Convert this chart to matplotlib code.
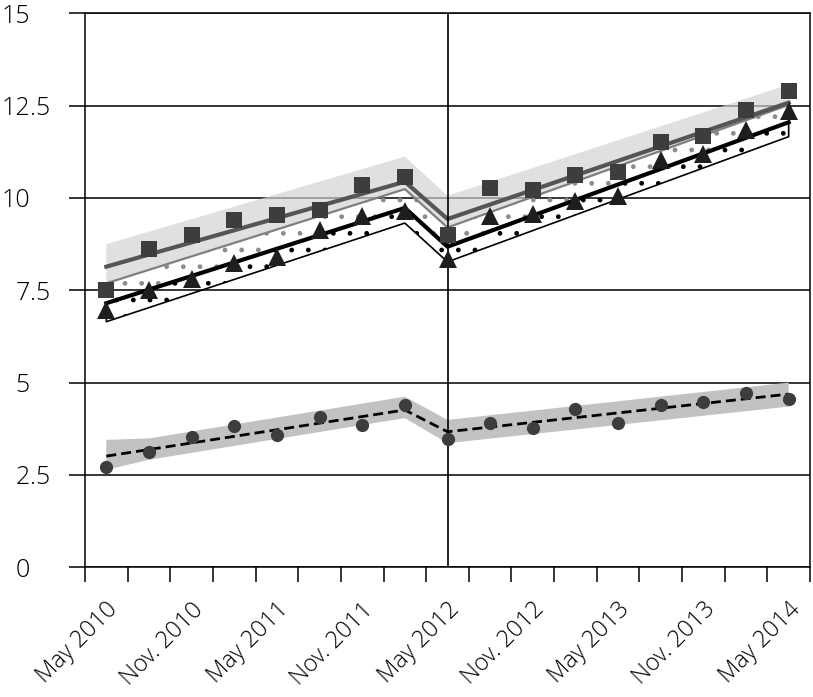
import matplotlib
matplotlib.use("Agg")
import matplotlib.pyplot as plt
import matplotlib.transforms as mtransforms
from matplotlib.ticker import FixedLocator
import numpy as np

plt.rcParams['font.family'] = ['Open Sans', 'DejaVu Sans']
plt.rcParams['hatch.linewidth'] = 1.0

# quarterly observations, May 2010 .. May 2014
quarters = ["May 2010", "Aug. 2010", "Nov. 2010", "Feb. 2011", "May 2011",
            "Aug. 2011", "Nov. 2011", "Feb. 2012", "May 2012", "Aug. 2012",
            "Nov. 2012", "Feb. 2013", "May 2013", "Aug. 2013", "Nov. 2013",
            "Feb. 2014", "May 2014"]
tick_labels = ["May 2010", "Nov. 2010", "May 2011", "Nov. 2011", "May 2012",
               "Nov. 2012", "May 2013", "Nov. 2013", "May 2014"]
break_at = "May 2012"

squares = [7.51, 8.62, 9.00, 9.41, 9.54, 9.68, 10.36, 10.57, 9.00,
           10.27, 10.22, 10.63, 10.71, 11.52, 11.68, 12.39, 12.90]
triangles = [6.97, 7.51, 7.81, 8.24, 8.40, 9.13, 9.51, 9.65, 8.35,
             9.51, 9.56, 9.91, 10.05, 11.03, 11.20, 11.85, 12.36]
circles = [2.72, 3.12, 3.53, 3.83, 3.58, 4.07, 3.86, 4.39, 3.48,
           3.91, 3.77, 4.29, 3.91, 4.39, 4.47, 4.72, 4.56]

# fitted trends, given at the segment ends (before / after the break)
knots = [0, 7, 8, 16]
sq_fit = [8.14, 10.44, 9.43, 12.58]
sq_alt = [7.69, 10.24, 9.20, 12.52]
sq_upper = [8.75, 11.12, 10.06, 13.07]
tri_fit = [7.15, 9.73, 8.68, 12.05]
tri_lower = [6.65, 9.32, 8.27, 11.66]
ci_fit = [3.01, 4.26, 3.67, 4.69]
ci_knots = [0, 1, 7, 8, 16]
ci_upper = [3.45, 3.49, 4.62, 3.99, 5.00]
ci_lower = [2.64, 2.91, 4.04, 3.36, 4.35]

yticks = [0, 2.5, 5, 7.5, 10, 12.5, 15]

W, H = 813, 697
fig = plt.figure(figsize=(W / 100, H / 100), dpi=100)
ax = fig.add_axes([85 / W, 1 - 567.3 / H, 725 / W, 554 / H])

x = np.arange(len(quarters))

# bands
ax.fill_between(knots, sq_alt, sq_upper, facecolor='#d2d2d2', alpha=0.68, lw=0, zorder=2)
ax.fill_between(knots, tri_fit, sq_alt, facecolor='none', edgecolor='#8c8c8c',
                hatch='.', lw=0, zorder=2.2)
ax.fill_between(knots, tri_lower, tri_fit, facecolor='none', edgecolor='black',
                hatch='.', lw=1.2, zorder=2.3)
ax.fill_between(ci_knots, ci_lower, ci_upper, facecolor='#c2c2c2', lw=0, zorder=2)

# trend lines
ax.plot(knots, sq_alt, color='#7f7f7f', lw=1.6, zorder=3)
ax.plot(knots, sq_fit, color='#555555', lw=3, zorder=3.1)
ax.plot(knots, tri_fit, color='black', lw=3, zorder=3.1)
ax.plot(knots, ci_fit, color='black', lw=2, dashes=(3.6, 1.8), zorder=3.1)
ax.axvline(quarters.index(break_at), color='black', lw=1.2, zorder=3.5)

# observations
ax.plot(x, squares, 's', color='#3d3d3d', ms=11, mew=0, zorder=5)
ax.plot(x, triangles, '^', color='#1e1e1e', ms=13, mew=0, zorder=5)
ax.plot(x, circles, 'o', color='#3d3d3d', ms=9.5, mew=0, zorder=5)

ax.set_xlim(-0.5, len(quarters) - 0.5)
ax.set_ylim(0, 15)

# x axis: labels on every second quarter, tick marks between quarters
ax.set_xticks([quarters.index(q) for q in tick_labels])
ax.set_xticklabels(tick_labels, rotation=45, ha='right', va='center',
                   rotation_mode='anchor', fontsize=17, fontweight='light')
ax.xaxis.set_minor_locator(FixedLocator(np.arange(-0.5, len(quarters), 1.0)))
ax.tick_params(axis='x', which='major', length=0, pad=28)
ax.tick_params(axis='x', which='minor', length=11, width=1.1, direction='out', color='black')
shift = mtransforms.ScaledTranslation(8 / 100, 0, fig.dpi_scale_trans)
for lab in ax.get_xticklabels():
    lab.set_transform(lab.get_transform() + shift)

# y axis: grid, long outward ticks, decimal-aligned labels
ax.set_yticks(yticks)
ax.tick_params(axis='y', length=11.5, width=1.1, direction='out', labelleft=False)
ax.yaxis.grid(True, color='black', lw=1.1)
ax.set_axisbelow(True)
trans = mtransforms.blended_transform_factory(fig.transFigure, ax.transData)
for v in yticks:
    s = f"{v:g}"
    whole, _, frac = s.partition('.')
    ax.text(30 / W, v, whole, transform=trans, ha='right', va='center_baseline',
            fontsize=18, fontweight='light')
    if frac:
        ax.text(30 / W, v, '.' + frac, transform=trans, ha='left', va='center_baseline',
                fontsize=18, fontweight='light')

for side in ['left', 'right', 'top', 'bottom']:
    ax.spines[side].set_color('black')
    ax.spines[side].set_linewidth(1.1)

fig.savefig('out.png', dpi=100)
